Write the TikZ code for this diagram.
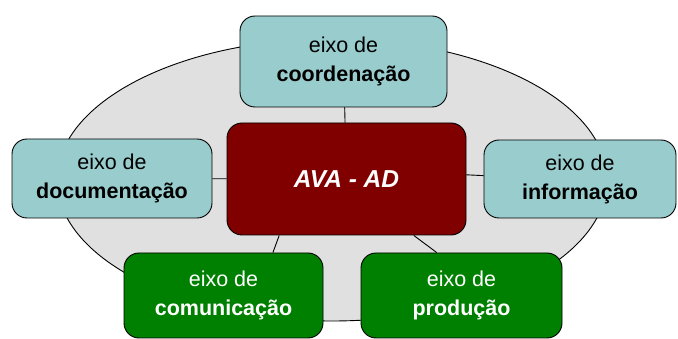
\documentclass[tikz,border=0pt]{standalone}
\usepackage{fontspec}
\setmainfont{Liberation Sans}
\usetikzlibrary{shapes.geometric}
\definecolor{teal1}{HTML}{99CCCC}
\definecolor{darkred1}{HTML}{800000}
\definecolor{green1}{HTML}{008000}
\definecolor{ring1}{HTML}{E0E0E0}
\tikzset{
  box/.style={draw=black, line width=0.9pt, rounded corners=15pt, inner sep=0pt,
    align=center, font=\fontsize{21.5}{29}\selectfont},
  tealbox/.style={box, fill=teal1, text=black},
  greenbox/.style={box, fill=green1, text=white},
  centerbox/.style={box, fill=darkred1, text=white, font=\fontsize{24.5}{29}\selectfont\bfseries\itshape},
  link/.style={draw=black, line width=0.9pt},
}
\begin{document}
\begin{tikzpicture}[x=1pt, y=-1pt]
\useasboundingbox (0,0) rectangle (678,339);
\node[ellipse, draw=black, line width=0.9pt, fill=ring1, minimum width=550pt, minimum height=282pt, inner sep=0pt] (ring) at (332,180) {};
\node[tealbox, minimum width=207pt, minimum height=91pt] (coord) at (343.5,61.5) {eixo de\\\textbf{coordenação}};
\node[tealbox, minimum width=200pt, minimum height=79pt] (doc) at (112,178.5) {eixo de\\\textbf{documentação}};
\node[tealbox, minimum width=192pt, minimum height=78pt] (info) at (580,179) {eixo de\\\textbf{informação}};
\node[centerbox, minimum width=239pt, minimum height=112pt] (ava) at (346.5,179) {AVA - AD};
\node[greenbox, minimum width=199pt, minimum height=85pt] (comm) at (223.5,295.5) {eixo de\\\textbf{comunicação}};
\node[greenbox, minimum width=201pt, minimum height=85pt] (prod) at (461.5,295.5) {eixo de\\\textbf{produção}};
\draw[link] (coord) -- (ava);
\draw[link] (doc) -- (ava);
\draw[link] (ava.2) -- (info.178);
\draw[link] (ava.220) -- (comm.41);
\draw[link] (ava.320) -- (prod.120);
\end{tikzpicture}
\end{document}
